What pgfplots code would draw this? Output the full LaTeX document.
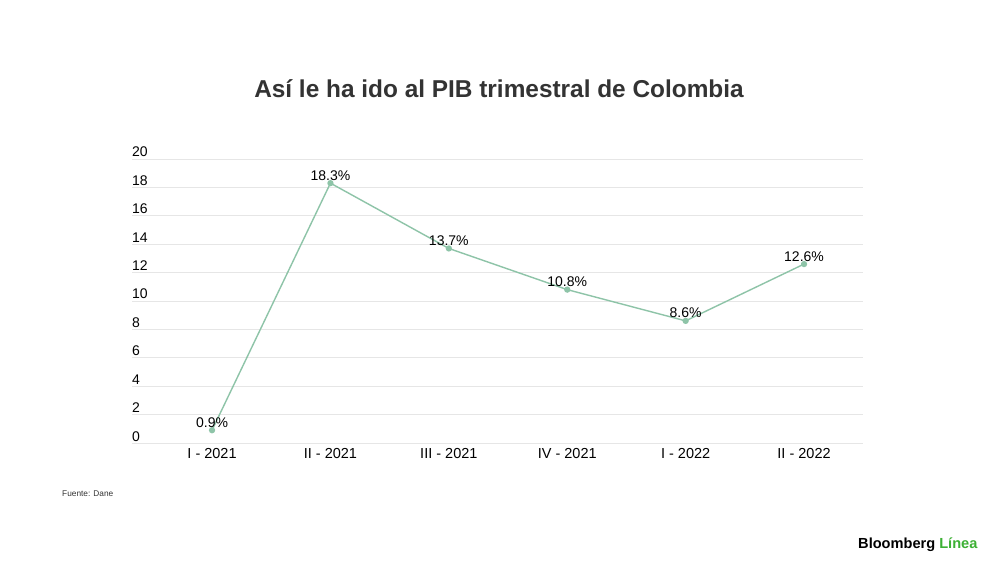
\documentclass[border=0pt]{standalone}
\usepackage{pgfplots}
\pgfplotsset{compat=1.18}
\usepackage{fontspec}
\setmainfont{Liberation Sans}
\definecolor{linec}{HTML}{8EC4A8}
\definecolor{gridc}{HTML}{E6E6E6}
\definecolor{titlec}{HTML}{333333}
\definecolor{bgreen}{HTML}{3CB034}
\begin{document}
\begin{tikzpicture}[x=1pt,y=1pt]
\useasboundingbox[fill=white] (0,0) rectangle (1000,562);
\begin{axis}[
  at={(132pt,119pt)}, anchor=south west,
  scale only axis, width=731pt, height=284pt,
  xmin=-0.676, xmax=5.498, ymin=0, ymax=20,
  enlargelimits=false, clip=false,
  axis line style={draw=none},
  major tick length=0pt,
  ytick={0,2,...,20},
  ymajorgrids, grid style={color=gridc, line width=0.9pt},
  xtick={0,1,2,3,4,5},
  xticklabels={I - 2021, II - 2021, III - 2021, IV - 2021, I - 2022, II - 2022},
  /pgf/number format/assume math mode=true,
  yticklabel style={anchor=base west, inner sep=0pt, yshift=2pt, font=\fontsize{14}{14}\selectfont, text=black},
  xticklabel style={anchor=north, inner sep=0pt, yshift=-5pt, font=\fontsize{14.5}{14.5}\selectfont, text=black},
]
\addplot[color=linec, line width=1.4pt, mark=*, mark size=2.4pt, mark options={fill=linec, draw=linec},
  nodes near coords={\pgfmathprintnumber[fixed, precision=1, fixed zerofill]{\pgfplotspointmeta}\%},
  point meta=explicit,
  nodes near coords style={anchor=base, inner sep=0pt, yshift=3pt, font=\fontsize{14}{14}\selectfont, text=black}]
  coordinates {(0,0.9)[0.9] (1,18.3)[18.3] (2,13.7)[13.7] (3,10.8)[10.8] (4,8.6)[8.6] (5,12.6)[12.6]};
\end{axis}
\node[anchor=base, inner sep=0pt, text=titlec, font=\fontsize{24.4}{24.4}\selectfont\bfseries] at (499,464) {Así le ha ido al PIB trimestral de Colombia};
\node[anchor=base west, inner sep=0pt, text=titlec, font=\fontsize{8.3}{8.3}\selectfont] at (62,65.5) {Fuente: Dane};
\node[anchor=base west, inner sep=0pt, font=\fontsize{14.6}{14.6}\selectfont\bfseries] at (858,13.5) {Bloomberg \textcolor{bgreen}{Línea}};
\end{tikzpicture}
\end{document}
